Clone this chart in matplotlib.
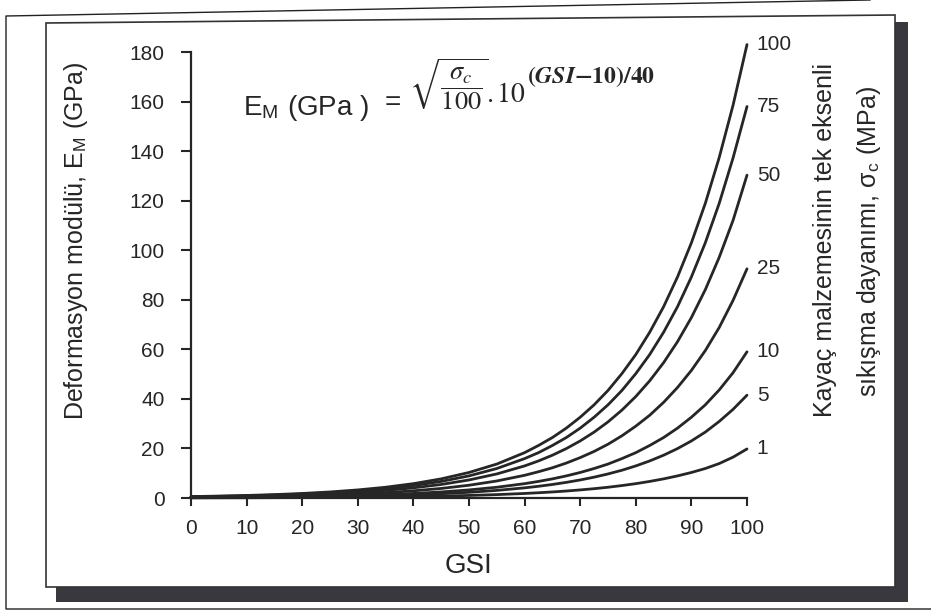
import numpy as np
import matplotlib
matplotlib.use("Agg")
import matplotlib.pyplot as plt
from matplotlib.patches import Polygon

plt.rcParams['font.family'] = ['Liberation Sans', 'DejaVu Sans']
plt.rcParams['mathtext.fontset'] = 'stix'

# GSI values and modulus (GPa), one list per sigma_c curve
gsi = [0, 5, 10, 15, 20, 25, 30, 35, 40, 45, 50, 55, 60, 62.5, 65, 67.5, 70, 72.5, 75,
       77.5, 80, 82.5, 85, 87.5, 90, 92.5, 95, 97.5, 100]
em_100 = [0.58, 0.77, 1.03, 1.37, 1.83, 2.44, 3.26, 4.34, 5.79, 7.72, 10.3, 13.7, 18.3, 21.2, 24.4,
          28.2, 32.6, 37.6, 43.4, 50.2, 57.9, 66.9, 77.2, 89.2, 103.0, 118.9, 137.4, 158.6, 183.0]
em_75 = [0.50, 0.67, 0.89, 1.19, 1.59, 2.12, 2.82, 3.76, 5.02, 6.69, 8.92, 11.9, 15.9, 18.3, 21.2,
         24.4, 28.2, 32.6, 37.6, 43.4, 50.2, 57.9, 66.9, 77.2, 89.2, 103.0, 118.9, 137.3, 158.0]
em_50 = [0.41, 0.55, 0.73, 0.97, 1.30, 1.73, 2.30, 3.07, 4.10, 5.46, 7.28, 9.71, 12.95, 14.96, 17.27,
         19.94, 23.03, 26.59, 30.71, 35.47, 40.96, 47.30, 54.62, 63.07, 72.83, 84.07, 97.12, 112.1, 130.3]
em_25 = [0.29, 0.39, 0.52, 0.69, 0.92, 1.22, 1.63, 2.17, 2.90, 3.86, 5.15, 6.87, 9.16, 10.6, 12.2,
         14.1, 16.3, 18.8, 21.7, 25.1, 29.0, 33.4, 38.6, 44.6, 51.5, 59.5, 68.8, 79.8, 92.5]
em_10 = [0.18, 0.24, 0.33, 0.43, 0.58, 0.77, 1.03, 1.37, 1.83, 2.44, 3.26, 4.34, 5.79, 6.69, 7.72,
         8.92, 10.3, 11.9, 13.7, 15.9, 18.3, 21.2, 24.4, 28.2, 32.6, 37.6, 43.6, 50.6, 59.0]
em_5 = [0.13, 0.17, 0.23, 0.31, 0.41, 0.55, 0.73, 0.97, 1.30, 1.73, 2.30, 3.07, 4.10, 4.73, 5.46,
        6.31, 7.28, 8.41, 9.71, 11.2, 12.95, 14.96, 17.27, 19.94, 23.03, 26.6, 30.9, 35.8, 41.5]
em_1 = [0.06, 0.08, 0.10, 0.14, 0.18, 0.24, 0.33, 0.43, 0.58, 0.77, 1.03, 1.37, 1.83, 2.12, 2.44,
        2.82, 3.26, 3.76, 4.34, 5.02, 5.79, 6.69, 7.72, 8.92, 10.3, 11.9, 13.9, 16.5, 19.8]
curves = [("100", em_100), ("75", em_75), ("50", em_50), ("25", em_25),
          ("10", em_10), ("5", em_5), ("1", em_1)]
xticks = [0, 10, 20, 30, 40, 50, 60, 70, 80, 90, 100]
yticks = [0, 20, 40, 60, 80, 100, 120, 140, 160, 180]

W, H = 931, 614
ink = '#262626'


def fx(px):
    return px / W


def fy(py):
    return 1 - py / H


fig = plt.figure(figsize=(W / 100, H / 100), dpi=100)

""" page frame with drop shadow (kept behind the axes) """
shadow = Polygon([(fx(895), fy(22)), (fx(908), fy(22)), (fx(908), fy(602)),
                  (fx(56), fy(602)), (fx(56), fy(587)), (fx(895), fy(587))],
                 closed=True, transform=fig.transFigure, facecolor='#38383e', edgecolor='none', zorder=-3)
fig.add_artist(shadow)
box = Polygon([(fx(46), fy(23)), (fx(895), fy(15)), (fx(895), fy(587)), (fx(46), fy(587))],
              closed=True, transform=fig.transFigure, facecolor='white', edgecolor='#333333', lw=1.2, zorder=-2)
fig.add_artist(box)
outer = plt.Line2D([fx(870), fx(6), fx(6), fx(931)], [fy(0), fy(16), fy(609), fy(609)],
                   transform=fig.transFigure, color='#222222', lw=1.0, zorder=-2)
fig.add_artist(outer)

ax = fig.add_axes([fx(191), fy(498), fx(747) - fx(191), fy(52) - fy(498)])
ax.patch.set_alpha(0)

for name, vals in curves:
    ax.plot(gsi, vals, color=ink, lw=2.0, clip_on=False, solid_capstyle='round')
    ax.annotate(name, (gsi[-1], vals[-1]), xytext=(7, 0), textcoords='offset points',
                ha='left', va='center', fontsize=15, color=ink, annotation_clip=False)

ax.set_xlim(0, 100)
ax.set_ylim(0, 180)
ax.set_xticks(xticks)
ax.set_yticks(yticks)
for s in ['top', 'right']:
    ax.spines[s].set_visible(False)
for s in ['left', 'bottom']:
    ax.spines[s].set_color(ink)
    ax.spines[s].set_linewidth(1.6)
ax.tick_params(axis='y', direction='out', length=7, width=1.5, pad=12, labelsize=15, colors=ink)
ax.tick_params(axis='x', direction='out', length=6, width=1.5, pad=9, labelsize=15, colors=ink)

ax.set_xlabel('GSI', fontsize=20, color=ink, labelpad=11)
fig.text(fx(76), fy(241), 'Deformasyon modülü, E$_\\mathregular{M}$ (GPa)', rotation=90,
         ha='center', va='center', fontsize=18, color=ink)
fig.text(fx(825), fy(240), 'Kayaç malzemesinin tek eksenli', rotation=90,
         ha='center', va='center', fontsize=18, color=ink)
fig.text(fx(869), fy(241), 'sıkışma dayanımı, σ$_\\mathregular{c}$ (MPa)', rotation=90,
         ha='center', va='center', fontsize=18, color=ink)

""" equation """
fig.text(fx(243), fy(115), 'E$_\\mathregular{M}$ (GPa )', ha='left', va='baseline',
         fontsize=20, color=ink)
fig.text(fx(385), fy(110), '=', ha='left', va='baseline', fontsize=20, color=ink)
fig.text(fx(409), fy(84), r'$\sqrt{\dfrac{\sigma_c}{100}}$',
         ha='left', va='center', fontsize=19, color=ink)
fig.text(fx(486), fy(102), r'$.10$', ha='left', va='baseline', fontsize=20, color=ink)
fig.text(fx(527), fy(83), r'$\mathbf{(}\mathbfit{GSI}\mathbf{-10)/40}$',
         ha='left', va='baseline', fontsize=17, color=ink)

fig.savefig('out.png', dpi=100)
